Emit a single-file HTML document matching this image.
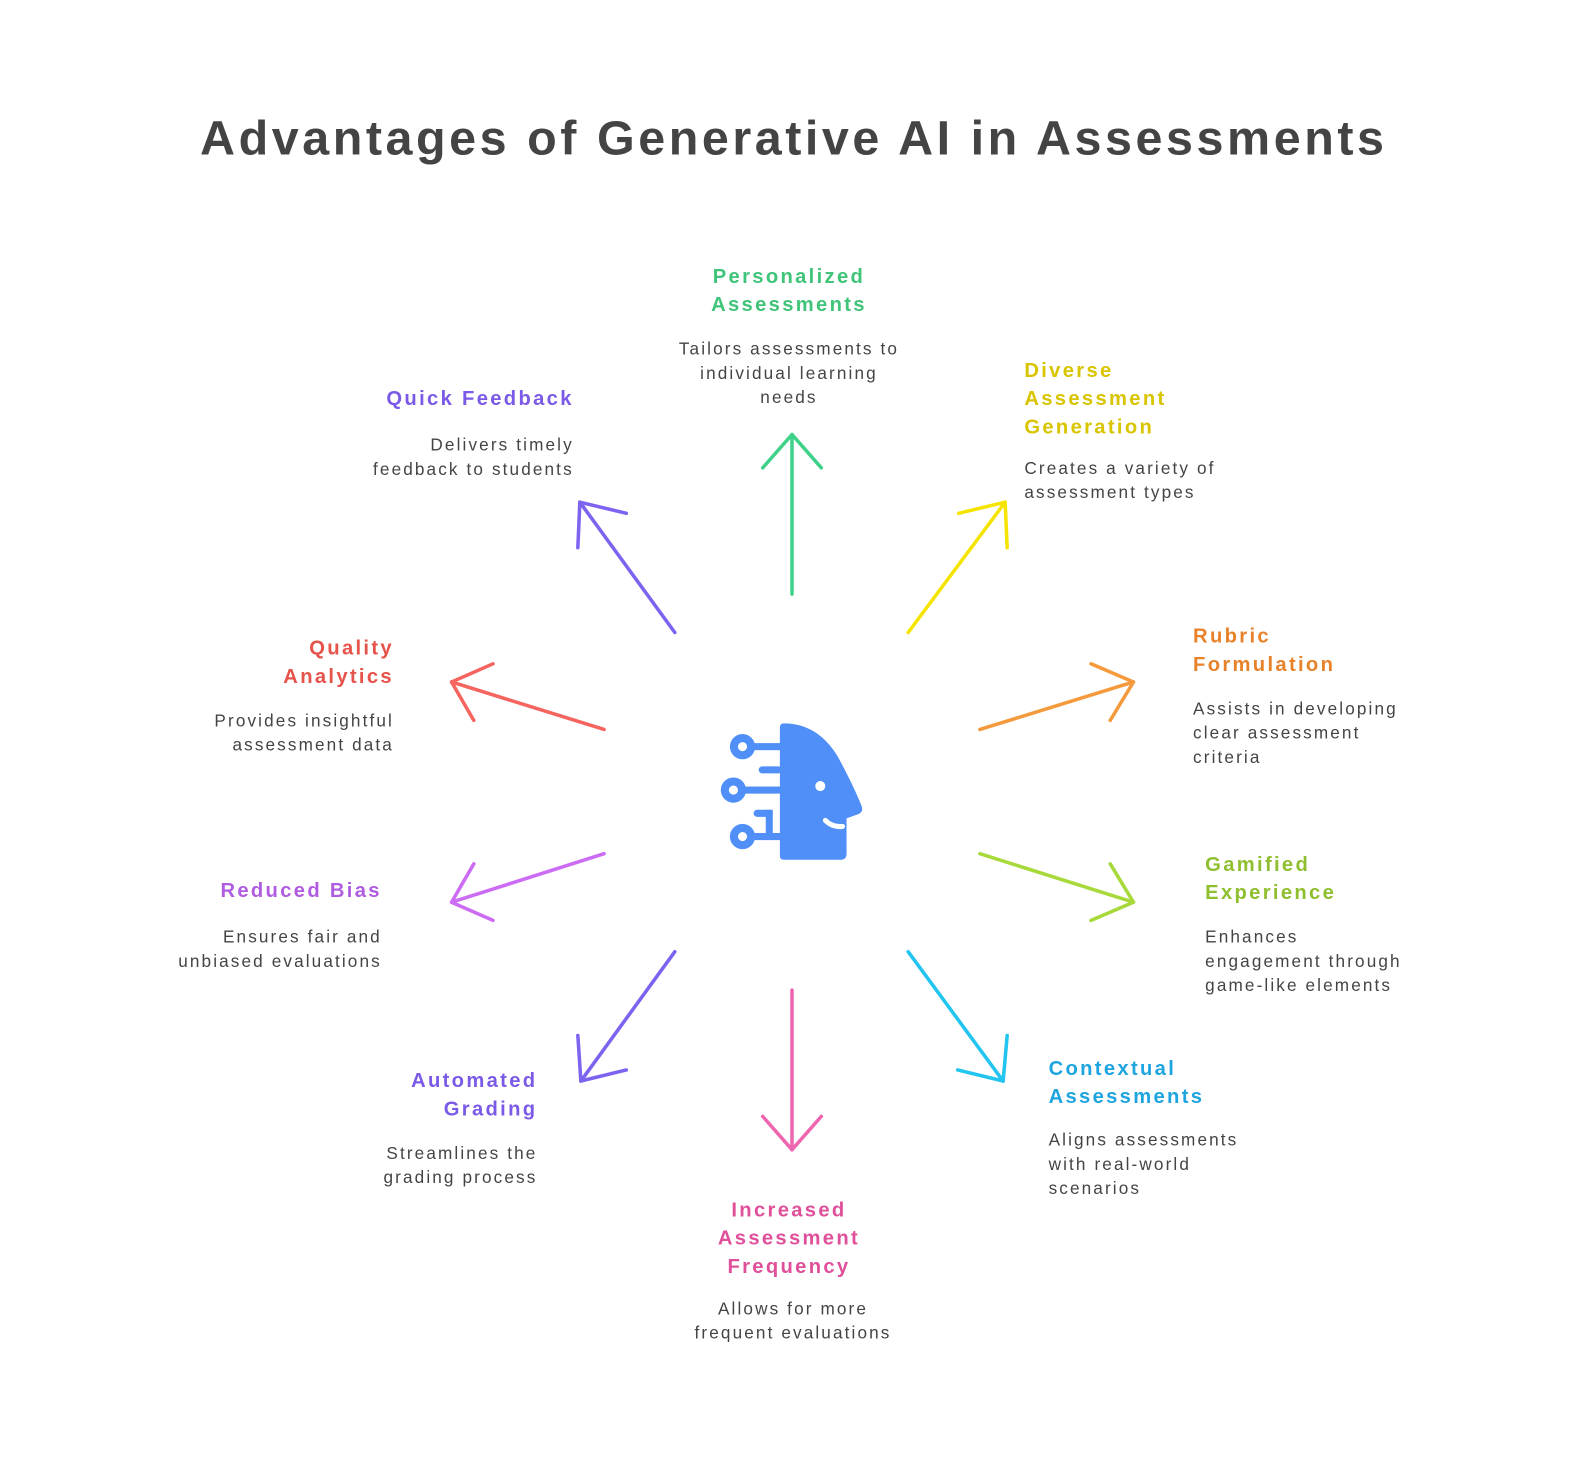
<!DOCTYPE html>
<html><head><meta charset="utf-8"><style>
html,body{margin:0;padding:0;background:#fff;}
svg{display:block;}
text{font-family:"Liberation Sans",sans-serif;}
.t{font-weight:bold;font-size:20px;letter-spacing:2.3px;}
.d{font-size:17px;fill:#444;letter-spacing:2.1px;}
</style></head><body>
<svg width="1584" height="1464" viewBox="0 0 1568 1449" xmlns="http://www.w3.org/2000/svg">
<rect width="1568" height="1449" fill="#fff"/>
<text x="198" y="153" textLength="1172" lengthAdjust="spacing" font-size="48" font-weight="bold" fill="#444">Advantages of Generative AI in Assessments</text>

<g fill="none" stroke-width="3.5" stroke-linecap="round" stroke-linejoin="round">
<g stroke="#3fd08a"><path d="M784 588 L784 430"/><path d="M755 463 L784 430 L813 463"/></g>
<g stroke="#f5e400"><path d="M899 626 L995 497"/><path d="M949 508 L995 497 L997 542"/></g>
<g stroke="#f59a3c"><path d="M970 722 L1122 675"/><path d="M1080 657 L1122 675 L1099 713"/></g>
<g stroke="#a8d93a"><path d="M970 845 L1122 893"/><path d="M1099 855 L1122 893 L1080 911"/></g>
<g stroke="#22c4f0"><path d="M899 942 L993 1070"/><path d="M997 1025 L993 1070 L948 1059"/></g>
<g stroke="#ee66b0"><path d="M784 980 L784 1138"/><path d="M755 1105 L784 1138 L813 1105"/></g>
<g stroke="#7e62f0"><path d="M668 942 L575 1070"/><path d="M572 1025 L575 1070 L620 1059"/></g>
<g stroke="#cc6cf5"><path d="M598 845 L447 893"/><path d="M469 855 L447 893 L488 911"/></g>
<g stroke="#f5645e"><path d="M598 722 L447 675"/><path d="M488 657 L447 675 L469 713"/></g>
<g stroke="#7e62f0"><path d="M668 626 L574 497"/><path d="M572 542 L574 497 L620 508"/></g>
</g>

<!-- icon -->
<g fill="#4f8ff7">
<path d="M772 720 Q772 716 776 716 Q810 716 830 750 Q845 778 853 798 Q855 804 849 806 L838 810 L838 845 Q838 851 832 851 L776 851 Q772 851 772 847 Z"/>
<circle cx="735" cy="739" r="12.5"/>
<circle cx="726" cy="782" r="12.5"/>
<circle cx="735" cy="828" r="12.5"/>
<rect x="740" y="735.5" width="34" height="7"/>
<rect x="731" y="778.5" width="43" height="7"/>
<rect x="740" y="824.5" width="34" height="7"/>
<rect x="751" y="758.5" width="23" height="7" rx="3.5"/>
<rect x="746" y="801.5" width="19" height="7" rx="3.5"/>
<rect x="758" y="801.5" width="7" height="26"/>
</g>
<g fill="#fff">
<circle cx="735" cy="739" r="4.5"/>
<circle cx="726" cy="782" r="4.5"/>
<circle cx="735" cy="828" r="4.5"/>
<circle cx="812" cy="778" r="5"/>
</g>
<path d="M817 812 Q824 819 834 818" fill="none" stroke="#fff" stroke-width="5" stroke-linecap="round"/>

<!-- labels -->
<g fill="#3fc47a" text-anchor="middle"><text class="t" x="781" y="280">Personalized</text><text class="t" x="781" y="308">Assessments</text></g>
<g text-anchor="middle"><text class="d" x="781" y="351">Tailors assessments to</text><text class="d" x="781" y="375">individual learning</text><text class="d" x="781" y="399">needs</text></g>

<g fill="#d9c400"><text class="t" x="1014" y="373">Diverse</text><text class="t" x="1014" y="401">Assessment</text><text class="t" x="1014" y="429">Generation</text></g>
<text class="d" x="1014" y="469">Creates a variety of</text><text class="d" x="1014" y="493">assessment types</text>

<g fill="#7a5ae6" text-anchor="end"><text class="t" x="568" y="401">Quick Feedback</text></g>
<g text-anchor="end"><text class="d" x="568" y="446">Delivers timely</text><text class="d" x="568" y="470">feedback to students</text></g>

<g fill="#e8822a"><text class="t" x="1181" y="636">Rubric</text><text class="t" x="1181" y="664">Formulation</text></g>
<text class="d" x="1181" y="707">Assists in developing</text><text class="d" x="1181" y="731">clear assessment</text><text class="d" x="1181" y="755">criteria</text>

<g fill="#e5534b" text-anchor="end"><text class="t" x="390" y="648">Quality</text><text class="t" x="390" y="676">Analytics</text></g>
<g text-anchor="end"><text class="d" x="390" y="719">Provides insightful</text><text class="d" x="390" y="743">assessment data</text></g>

<g fill="#8fbf2f"><text class="t" x="1193" y="862">Gamified</text><text class="t" x="1193" y="890">Experience</text></g>
<text class="d" x="1193" y="933">Enhances</text><text class="d" x="1193" y="957">engagement through</text><text class="d" x="1193" y="981">game-like elements</text>

<g fill="#b05ce0" text-anchor="end"><text class="t" x="378" y="888">Reduced Bias</text></g>
<g text-anchor="end"><text class="d" x="378" y="933">Ensures fair and</text><text class="d" x="378" y="957">unbiased evaluations</text></g>

<g fill="#1ea5e0"><text class="t" x="1038" y="1064">Contextual</text><text class="t" x="1038" y="1092">Assessments</text></g>
<text class="d" x="1038" y="1134">Aligns assessments</text><text class="d" x="1038" y="1158">with real-world</text><text class="d" x="1038" y="1182">scenarios</text>

<g fill="#7a5ae6" text-anchor="end"><text class="t" x="532" y="1076">Automated</text><text class="t" x="532" y="1104">Grading</text></g>
<g text-anchor="end"><text class="d" x="532" y="1147">Streamlines the</text><text class="d" x="532" y="1171">grading process</text></g>

<g fill="#e0509a" text-anchor="middle"><text class="t" x="781" y="1204">Increased</text><text class="t" x="781" y="1232">Assessment</text><text class="t" x="781" y="1260">Frequency</text></g>
<g text-anchor="middle"><text class="d" x="785" y="1301">Allows for more</text><text class="d" x="785" y="1325">frequent evaluations</text></g>
</svg>
</body></html>
